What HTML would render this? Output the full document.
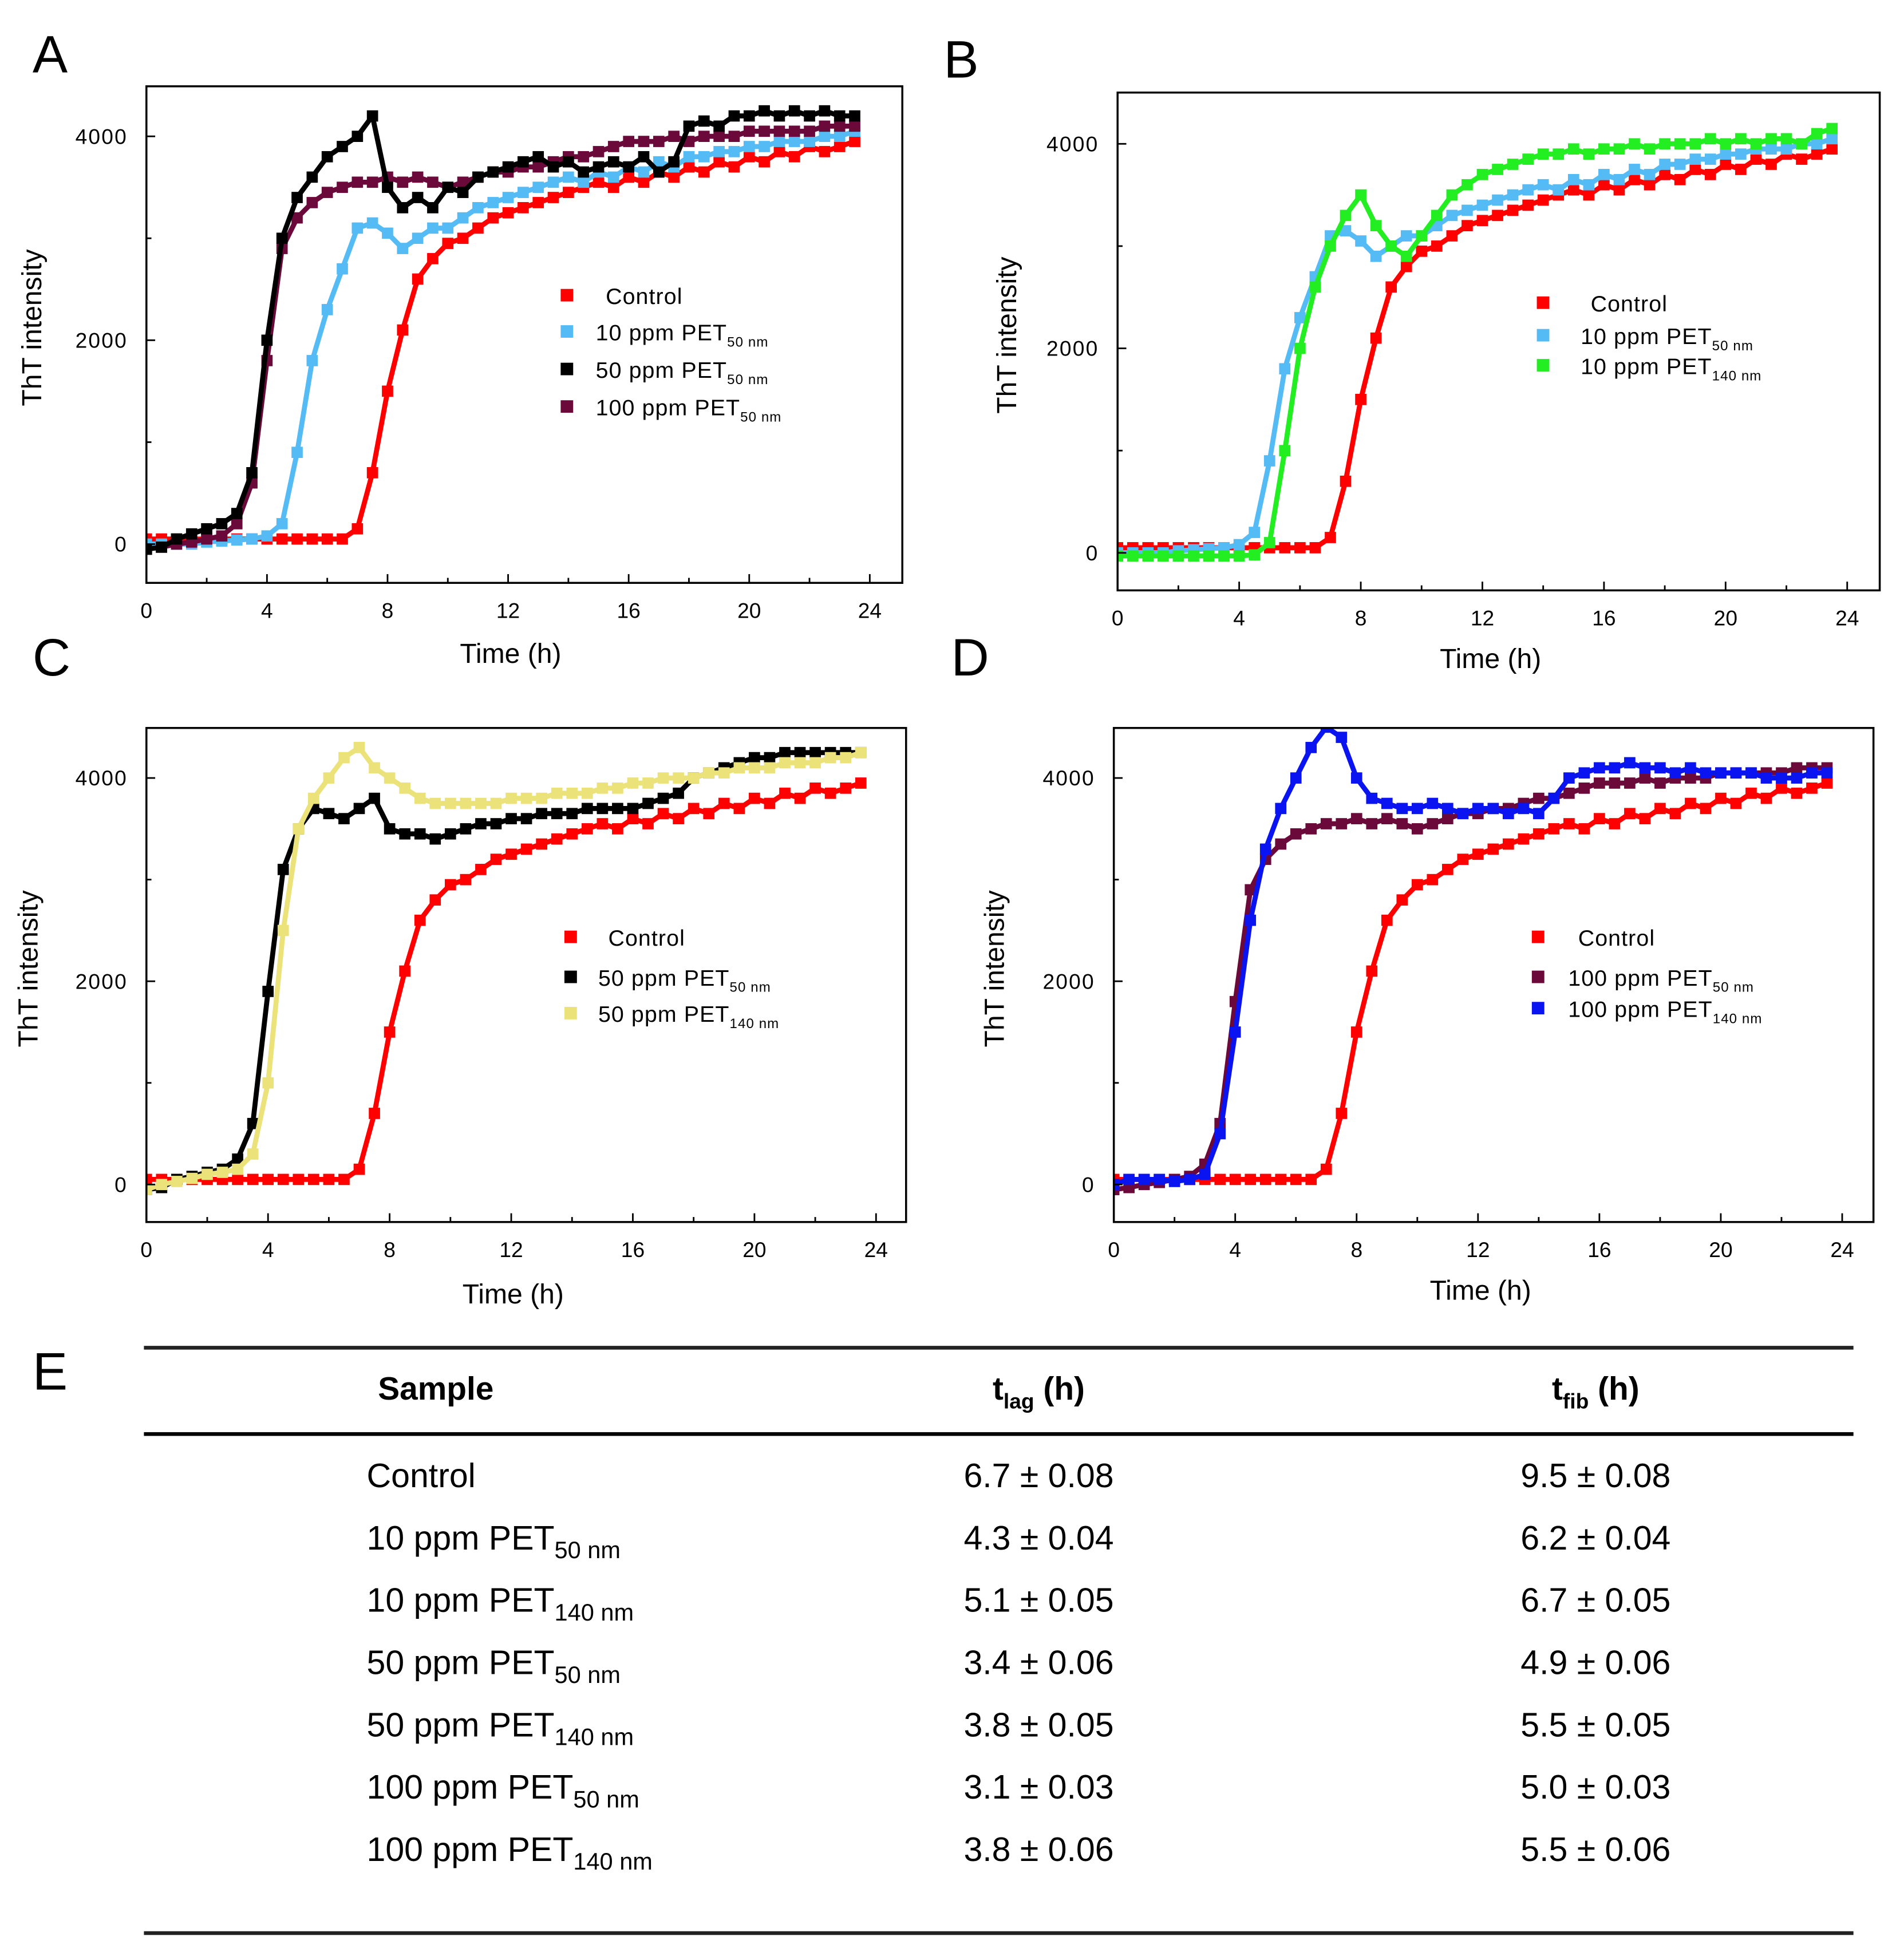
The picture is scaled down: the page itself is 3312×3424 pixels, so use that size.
<!DOCTYPE html>
<html><head><meta charset="utf-8"><style>
html,body{margin:0;padding:0;background:#fff}
svg{display:block}
text{font-family:"Liberation Sans",sans-serif;fill:#000}
</style></head><body>
<svg id="fig" width="3312" height="3424" viewBox="0 0 1515 1567" preserveAspectRatio="none" xmlns="http://www.w3.org/2000/svg">
<g id="charts"></g>
<g id="table">
<text x="26" y="1111" font-size="42">E</text>
<rect x="115" y="1076" width="1366" height="3" fill="#222"/>
<rect x="115" y="1145" width="1366" height="3" fill="#000"/>
<rect x="115" y="1544" width="1366" height="3" fill="#222"/>
<text x="302" y="1119" font-size="26" font-weight="bold">Sample</text>
<text x="830" y="1119" font-size="26" font-weight="bold" text-anchor="middle">t<tspan font-size="17" dy="7">lag</tspan><tspan dy="-7"> (h)</tspan></text>
<text x="1275" y="1119" font-size="26" font-weight="bold" text-anchor="middle">t<tspan font-size="17" dy="7">fib</tspan><tspan dy="-7"> (h)</tspan></text>
</g>
</svg>
<script>
const T = Array.from({length:48},(_,i)=>i*0.5);
const control=[50,50,50,50,50,50,50,50,50,50,50,50,50,50,150,700,1500,2100,2600,2800,2950,3000,3100,3200,3250,3300,3350,3400,3450,3500,3550,3500,3600,3550,3650,3600,3700,3650,3750,3700,3800,3750,3850,3800,3900,3850,3900,3950];
const ppm10_50=[0,0,0,0,20,30,40,50,80,200,900,1800,2300,2700,3100,3150,3050,2900,3000,3100,3100,3200,3300,3350,3400,3450,3500,3550,3600,3550,3650,3600,3700,3650,3750,3700,3800,3800,3850,3850,3900,3900,3950,3950,3950,4000,4000,4050];
const ppm50_50A=[-50,-30,50,100,150,200,300,700,2000,3000,3400,3600,3800,3900,4000,4200,3500,3300,3400,3300,3500,3450,3600,3650,3700,3750,3800,3700,3750,3650,3700,3750,3700,3800,3650,3750,4100,4150,4100,4200,4200,4250,4200,4250,4200,4250,4200,4200];
const ppm50_50C=[-50,-30,50,80,120,150,250,600,1900,3100,3500,3700,3650,3600,3700,3800,3500,3450,3450,3400,3450,3500,3550,3550,3600,3600,3650,3650,3650,3700,3700,3700,3700,3750,3800,3850,4000,4050,4100,4150,4200,4200,4250,4250,4250,4250,4250,4250];
const ppm100_50=[-50,-30,0,20,50,80,200,600,1800,2900,3200,3350,3450,3500,3550,3550,3600,3550,3600,3550,3500,3550,3600,3650,3650,3700,3700,3750,3800,3800,3850,3900,3950,3950,3950,4000,3950,4000,4000,4000,4050,4050,4050,4050,4050,4100,4100,4100];
const ppm10_140=[-30,-30,-30,-30,-30,-30,-30,-30,-30,-20,100,1000,2000,2600,3000,3300,3500,3200,3000,2900,3100,3300,3500,3600,3700,3750,3800,3850,3900,3900,3950,3900,3950,3950,4000,3950,4000,4000,4000,4050,4000,4050,4000,4050,4050,4000,4100,4150];
const ppm50_140=[-50,0,30,60,100,120,150,300,1000,2500,3500,3800,4000,4200,4300,4100,4000,3900,3800,3750,3750,3750,3750,3750,3800,3800,3800,3850,3850,3850,3900,3900,3950,3950,4000,4000,4000,4050,4050,4100,4100,4100,4150,4150,4150,4200,4200,4250];
const ppm100_140=[0,50,50,50,30,50,100,500,1500,2600,3300,3700,4000,4300,4500,4400,4000,3800,3750,3700,3700,3750,3700,3650,3700,3700,3650,3700,3650,3800,4000,4050,4100,4100,4150,4100,4100,4050,4100,4050,4050,4050,4050,4000,4000,4000,4050,4050];
const xTicks=[0,4,8,12,16,20,24];
const yTicks=[0,2000,4000];

const C={red:"#ff0000",lb:"#55bbf5",blk:"#000000",mar:"#6b0a3a",grn:"#22ee22",yel:"#ece27a",blu:"#0a14f0"};
const panels=[
 {id:"a",letter:"A",lx:26,ly:58,fx:117,fy:69,fw:604,fh:397,x0:117,x24:695,y0:435,y4:109,ytx:33,tx:408,tty:530,
  series:[["control",control,C.red],["10ppm-50nm",ppm10_50,C.lb],["100ppm-50nm",ppm100_50,C.mar],["50ppm-50nm",ppm50_50A,C.blk]],
  legend:{mx:453,tx:476,rows:[[236,"Control",C.red,""],[265,"10 ppm PET",C.lb,"50 nm"],[295,"50 ppm PET",C.blk,"50 nm"],[325,"100 ppm PET",C.mar,"50 nm"]]}},
 {id:"b",letter:"B",lx:754,ly:62,fx:893,fy:74,fw:609,fh:398,x0:893,x24:1476,y0:442,y4:115,ytx:812,tx:1191,tty:534,
  series:[["control",control,C.red],["10ppm-50nm",ppm10_50,C.lb],["10ppm-140nm",ppm10_140,C.grn]],
  legend:{mx:1233,tx:1263,rows:[[242,"Control",C.red,""],[268,"10 ppm PET",C.lb,"50 nm"],[292,"10 ppm PET",C.grn,"140 nm"]]}},
 {id:"c",letter:"C",lx:26,ly:540,fx:117,fy:582,fw:607,fh:395,x0:117,x24:700,y0:947,y4:622,ytx:30,tx:410,tty:1042,
  series:[["control",control,C.red],["50ppm-50nm",ppm50_50C,C.blk],["50ppm-140nm",ppm50_140,C.yel]],
  legend:{mx:456,tx:478,rows:[[749,"Control",C.red,""],[781,"50 ppm PET",C.blk,"50 nm"],[810,"50 ppm PET",C.yel,"140 nm"]]}},
 {id:"d",letter:"D",lx:760,ly:540,fx:890,fy:582,fw:607,fh:395,x0:890,x24:1472,y0:947,y4:622,ytx:802,tx:1183,tty:1039,
  series:[["control",control,C.red],["100ppm-50nm",ppm100_50,C.mar],["100ppm-140nm",ppm100_140,C.blu]],
  legend:{mx:1229,tx:1253,rows:[[749,"Control",C.red,""],[781,"100 ppm PET",C.mar,"50 nm"],[806,"100 ppm PET",C.blu,"140 nm"]]}}
];
const NS="http://www.w3.org/2000/svg";
function mk(tag,attrs,parent){const e=document.createElementNS(NS,tag);for(const k in attrs)e.setAttribute(k,attrs[k]);parent.appendChild(e);return e;}
const root=document.getElementById("charts");
panels.forEach(p=>{
 const g=mk("g",{},root);
 
 
 const sx=v=>p.x0+(p.x24-p.x0)*v/24;
 const sy=v=>p.y0-(p.y0-p.y4)*v/4000;
 const L=mk("text",{x:p.lx,y:p.ly,"font-size":42},g);L.textContent=p.letter;
 
 
 const clip=mk("clipPath",{id:"clip"+p.id},g);mk("rect",{x:p.fx,y:p.fy,width:p.fw,height:p.fh},clip);
 const sg=mk("g",{"clip-path":"url(#clip"+p.id+")"},g);
 p.series.forEach(s=>{
  const [nm,vals,col]=s;
  const sgg=mk("g",{},sg);
  
  
  const pts=vals.map((v,i)=>sx(T[i])+","+sy(v)).join(" ");
  mk("polyline",{points:pts,fill:"none",stroke:col,"stroke-width":4,"stroke-linejoin":"round"},sgg);
  vals.forEach((v,i)=>{
   const r=mk("rect",{x:sx(T[i])-4.5,y:sy(v)-4.5,width:9,height:9,fill:col},sgg);
   
   
  });
 });
 const fr=mk("rect",{x:p.fx,y:p.fy,width:p.fw,height:p.fh,fill:"none",stroke:"#000","stroke-width":1.6},g);
 
 
 const by=p.fy+p.fh;
 for(let v=0;v<=24;v+=2){mk("line",{x1:sx(v),x2:sx(v),y1:by,y2:by-(v%4?4:7),stroke:"#000","stroke-width":1.3},g);}
 xTicks.forEach(v=>{const t=mk("text",{x:sx(v),y:by+28,"font-size":17,"text-anchor":"middle"},g);t.textContent=v;
  
  });
 for(let v=0;v<=4000;v+=1000){mk("line",{x1:p.fx,x2:p.fx+(v%2000?4:7),y1:sy(v),y2:sy(v),stroke:"#000","stroke-width":1.3},g);}
 yTicks.forEach(v=>{const t=mk("text",{x:p.fx-15,y:sy(v)+6,"font-size":17,"text-anchor":"end","letter-spacing":"1"},g);t.textContent=v;
  
  });
 const yt=mk("text",{x:p.ytx,y:(p.fy+p.y0)/2+10,"font-size":22,"text-anchor":"middle",transform:"rotate(-90 "+p.ytx+" "+((p.fy+p.y0)/2+10)+")"},g);
 yt.textContent="ThT intensity";
 
 
 const xt=mk("text",{x:p.tx,y:p.tty,"font-size":22,"text-anchor":"middle"},g);xt.textContent="Time (h)";
 
 
 p.legend.rows.forEach((r,i)=>{
  const [y,lab,col,sub]=r;
  const lg=mk("g",{},g);
  
  
  mk("rect",{x:p.legend.mx-5,y:y-5,width:10,height:10,fill:col},lg);
  const t=mk("text",{x:p.legend.tx+(i===0?8:0),y:y+7,"font-size":18,"letter-spacing":"0.5"},lg);
  t.textContent=lab;
  if(sub){const ts=mk("tspan",{"font-size":11,dy:5},t);ts.textContent=sub;}
 });
});
const rows=[["Control","","6.7 ± 0.08","9.5 ± 0.08"],["10 ppm PET","50 nm","4.3 ± 0.04","6.2 ± 0.04"],["10 ppm PET","140 nm","5.1 ± 0.05","6.7 ± 0.05"],["50 ppm PET","50 nm","3.4 ± 0.06","4.9 ± 0.06"],["50 ppm PET","140 nm","3.8 ± 0.05","5.5 ± 0.05"],["100 ppm PET","50 nm","3.1 ± 0.03","5.0 ± 0.03"],["100 ppm PET","140 nm","3.8 ± 0.06","5.5 ± 0.06"]];
const tb=document.getElementById("table");
rows.forEach((r,i)=>{
 const y=1189+i*49.8;
 const g=mk("g",{},tb);
 
 
 const a=mk("text",{x:293,y:y,"font-size":27},g);a.textContent=r[0];
 if(r[1]){const s=mk("tspan",{"font-size":19,dy:7},a);s.textContent=r[1];}
 const b=mk("text",{x:830,y:y,"font-size":27,"text-anchor":"middle"},g);b.textContent=r[2];
 const c=mk("text",{x:1275,y:y,"font-size":27,"text-anchor":"middle"},g);c.textContent=r[3];
});
</script>
</body></html>
